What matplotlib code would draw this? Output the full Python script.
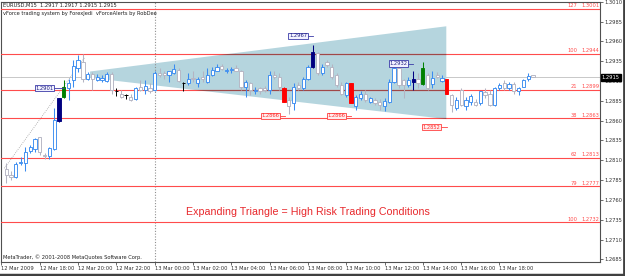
import matplotlib
matplotlib.use("Agg")
import matplotlib.pyplot as plt
import matplotlib.transforms as mtrans
from matplotlib.patches import Polygon
from matplotlib.lines import Line2D

# EURUSD M15, bar 0 = 12 Mar 16:00
bars = list(range(1, 112))
opens = [1.2799, 1.2792, 1.2789, 1.2807, 1.2807, 1.2822, 1.2824, 1.2839, 1.2817, 1.2815,
         1.2824, 1.2859, 1.2890, 1.2901, 1.2911, 1.2926, 1.2934, 1.2913, 1.2919, 1.2911,
         1.2911, 1.2910, 1.2919, 1.2897, 1.2894, 1.2892, 1.2890, 1.2887, 1.2903, 1.2899,
         1.2901, 1.2899, 1.2920, 1.2920, 1.2917, 1.2920, 1.2924, 1.2907, 1.2907, 1.2914,
         1.2907, 1.2915, 1.2909, 1.2917, 1.2923, 1.2929, 1.2923, 1.2924, 1.2927, 1.2922,
         1.2903, 1.2907, 1.2898, 1.2901, 1.2901, 1.2899, 1.2918, 1.2915, 1.2901, 1.2886,
         1.2882, 1.2905, 1.2901, 1.2913, 1.2928, 1.2945, 1.2920, 1.2934, 1.2928, 1.2918,
         1.2905, 1.2892, 1.2907, 1.2878, 1.2888, 1.2894, 1.2884, 1.2886, 1.2884, 1.2878,
         1.2884, 1.2909, 1.2926, 1.2911, 1.2905, 1.2909, 1.2913, 1.2906, 1.2918, 1.2906,
         1.2918, 1.2910, 1.2912, 1.2892, 1.2876, 1.2899, 1.2878, 1.2883, 1.2884, 1.2882,
         1.2896, 1.2894, 1.2880, 1.2901, 1.2907, 1.2901, 1.2906, 1.2897, 1.2903, 1.2912,
         1.2917]
highs = [1.2806, 1.2796, 1.2808, 1.2814, 1.2827, 1.2829, 1.2838, 1.2840, 1.2819, 1.2827,
         1.2876, 1.2889, 1.2911, 1.2913, 1.2936, 1.2943, 1.2944, 1.2921, 1.2921, 1.2919,
         1.2918, 1.2921, 1.2921, 1.2901, 1.2899, 1.2893, 1.2893, 1.2903, 1.2911, 1.2911,
         1.2908, 1.2922, 1.2926, 1.2923, 1.2923, 1.2931, 1.2926, 1.2909, 1.2920, 1.2922,
         1.2915, 1.2922, 1.2926, 1.2928, 1.2932, 1.2931, 1.2927, 1.2928, 1.2930, 1.2924,
         1.2911, 1.2909, 1.2902, 1.2903, 1.2904, 1.2922, 1.2922, 1.2920, 1.2903, 1.2890,
         1.2907, 1.2909, 1.2915, 1.2930, 1.2955, 1.2947, 1.2932, 1.2936, 1.2932, 1.2920,
         1.2909, 1.2909, 1.2907, 1.2892, 1.2897, 1.2899, 1.2890, 1.2888, 1.2887, 1.2888,
         1.2912, 1.2928, 1.2928, 1.2913, 1.2915, 1.2922, 1.2920, 1.2934, 1.2920, 1.2922,
         1.2921, 1.2918, 1.2912, 1.2894, 1.2890, 1.2901, 1.2890, 1.2894, 1.2887, 1.2898,
         1.2901, 1.2899, 1.2903, 1.2907, 1.2911, 1.2909, 1.2909, 1.2903, 1.2913, 1.2920,
         1.2917]
lows = [1.2781, 1.2785, 1.2788, 1.2804, 1.2796, 1.2819, 1.2821, 1.2817, 1.2812, 1.2812,
        1.2823, 1.2858, 1.2889, 1.2886, 1.2903, 1.2921, 1.2909, 1.2911, 1.2899, 1.2910,
        1.2909, 1.2909, 1.2894, 1.2891, 1.2888, 1.2887, 1.2885, 1.2886, 1.2897, 1.2894,
        1.2895, 1.2897, 1.2915, 1.2913, 1.2909, 1.2919, 1.2909, 1.2897, 1.2905, 1.2909,
        1.2903, 1.2909, 1.2907, 1.2916, 1.2922, 1.2924, 1.2920, 1.2920, 1.2922, 1.2899,
        1.2890, 1.2892, 1.2893, 1.2894, 1.2896, 1.2894, 1.2913, 1.2899, 1.2883, 1.2869,
        1.2873, 1.2899, 1.2899, 1.2911, 1.2926, 1.2918, 1.2918, 1.2928, 1.2913, 1.2903,
        1.2892, 1.2890, 1.2882, 1.2874, 1.2886, 1.2884, 1.2882, 1.2880, 1.2873, 1.2872,
        1.2882, 1.2907, 1.2901, 1.2888, 1.2902, 1.2899, 1.2901, 1.2905, 1.2899, 1.2901,
        1.2914, 1.2909, 1.2893, 1.2871, 1.2873, 1.2878, 1.2874, 1.2880, 1.2878, 1.2880,
        1.2888, 1.2878, 1.2878, 1.2899, 1.2899, 1.2899, 1.2894, 1.2892, 1.2903, 1.2910,
        1.2915]
closes = [1.2791, 1.2789, 1.2805, 1.2808, 1.2820, 1.2827, 1.2837, 1.2820, 1.2815, 1.2825,
          1.2861, 1.2889, 1.2903, 1.2907, 1.2929, 1.2936, 1.2912, 1.2919, 1.2912, 1.2915,
          1.2914, 1.2919, 1.2899, 1.2897, 1.2890, 1.2892, 1.2886, 1.2901, 1.2899, 1.2904,
          1.2897, 1.2920, 1.2918, 1.2917, 1.2922, 1.2925, 1.2910, 1.2907, 1.2912, 1.2912,
          1.2913, 1.2912, 1.2917, 1.2924, 1.2928, 1.2925, 1.2924, 1.2925, 1.2923, 1.2903,
          1.2909, 1.2899, 1.2899, 1.2898, 1.2899, 1.2918, 1.2915, 1.2903, 1.2884, 1.2878,
          1.2903, 1.2901, 1.2913, 1.2928, 1.2947, 1.2920, 1.2928, 1.2930, 1.2915, 1.2905,
          1.2894, 1.2907, 1.2882, 1.2890, 1.2894, 1.2886, 1.2888, 1.2882, 1.2880, 1.2885,
          1.2909, 1.2926, 1.2905, 1.2905, 1.2911, 1.2913, 1.2907, 1.2926, 1.2901, 1.2914,
          1.2915, 1.2914, 1.2893, 1.2880, 1.2886, 1.2880, 1.2886, 1.2891, 1.2880, 1.2897,
          1.2892, 1.2880, 1.2901, 1.2905, 1.2901, 1.2906, 1.2897, 1.2901, 1.2911, 1.2916,
          1.2915]

# vForce coloured bars
highlight = {12: "#000080", 13: "#008000", 59: "#ff0000", 65: "#000080",
             73: "#ff0000", 86: "#000080", 88: "#008000", 93: "#ff0000"}
black_bars = [24, 26, 38]

fib_levels = ["127", "100", "21", "38", "62", "79", "100"]
fib_prices = [1.3001, 1.2944, 1.2899, 1.2863, 1.2813, 1.2777, 1.2732]

# swing labels: (text, label end bar, marked bar, price, kind)
swing_labels = [("1.2901", 10.9, 13.0, 1.2901, "hi"),
                ("1.2967", 63.8, 65.0, 1.2967, "hi"),
                ("1.2932", 84.8, 86.0, 1.2932, "hi"),
                ("1.2866", 58.0, 59.2, 1.2866, "lo"),
                ("1.2866", 71.8, 73.0, 1.2866, "lo"),
                ("1.2852", 91.6, 93.1, 1.2852, "lo")]

triangle_bars = [18.5, 92.9, 92.9, 18.5]
triangle_prices = [1.2922, 1.2979, 1.2862, 1.2914]
trend_bars = [0.6, 17.3]
trend_prices = [1.2800, 1.2939]

current_price = 1.2915
price_ticks = [1.3010, 1.2985, 1.2960, 1.2935, 1.2910, 1.2885, 1.2860, 1.2835,
               1.2810, 1.2785, 1.2760, 1.2735, 1.2710, 1.2685]
time_ticks = [0, 8, 16, 24, 32, 40, 48, 56, 64, 72, 80, 88, 96, 104]
time_labels = ["12 Mar 2009", "12 Mar 18:00", "12 Mar 20:00", "12 Mar 22:00",
               "13 Mar 00:00", "13 Mar 02:00", "13 Mar 04:00", "13 Mar 06:00",
               "13 Mar 08:00", "13 Mar 10:00", "13 Mar 12:00", "13 Mar 14:00",
               "13 Mar 16:00", "13 Mar 18:00"]

UP, DOWN = "#3a8cf0", "#b4b4c2"
FIB = "#ff4c4c"
SMALL = 3.7

fig = plt.figure(figsize=(6.25, 2.76), dpi=100)
ax = fig.add_axes([1.5 / 625, 14 / 276, 598.5 / 625, 260.3 / 276])
ax.set_xlim(0.06, 125.0)
ax.set_ylim(1.26818, 1.30100)

# triangle
tri = Polygon(list(zip(triangle_bars, triangle_prices)), closed=True,
              facecolor="#b5d5de", edgecolor="none", zorder=2)
ax.add_patch(tri)

ax.axhline(current_price, color="#c8c8c8", lw=0.7, zorder=1)
ax.axvline(32, color="#909090", lw=0.8, ls=(0, (1, 1.5)), zorder=3)
ax.plot(trend_bars, trend_prices, color="#a0a0a0", lw=0.6, ls=(0, (1, 1.5)), zorder=3)

# fibo levels, darker where they cross the triangle
for lev, p in zip(fib_levels, fib_prices):
    ax.axhline(p, color=FIB, lw=0.8, zorder=3)
    dark = ax.axhline(p, color="#a04848", lw=0.8, zorder=3.5)
    dark.set_clip_path(tri)
    ax.text(120.3, p + 0.00008, lev, color=FIB, fontsize=SMALL, ha="right", va="bottom")
    ax.text(121.1, p + 0.00008, f"{p:.4f}", color=FIB, fontsize=SMALL, ha="left", va="bottom")

# candles
for i, o, h, l, c in zip(bars, opens, highs, lows, closes):
    if i in black_bars:
        ax.vlines(i, l, h, color="black", lw=0.7, zorder=5)
        ax.hlines(o, i - 0.35, i + 0.35, color="black", lw=0.7, zorder=5)
        continue
    col = UP if c >= o else DOWN
    face = "white"
    if i in highlight:
        col = face = highlight[i]
    ax.vlines(i, l, h, color=col, lw=0.75, zorder=4)
    body = max(abs(c - o), 0.00002)
    ax.bar(i, body, bottom=min(o, c), width=0.68, facecolor=face, edgecolor=col,
           linewidth=0.65, zorder=5)

# swing labels
for txt, xe, xb, p, kind in swing_labels:
    if kind == "hi":
        ec, fc, tc = "#3a3aa8", "#f2f2ff", "#202080"
    else:
        ec, fc, tc = "#ff4040", "#ffecec", "#ff3030"
    ax.plot([xe, xb], [p, p], color=ec, lw=0.6, zorder=6)
    ax.text(xe, p, txt, fontsize=SMALL, color=tc, ha="right", va="center", zorder=7,
            bbox=dict(boxstyle="square,pad=0.15", fc=fc, ec=ec, lw=0.6))

ax.text(64.0, 1.2745, "Expanding Triangle = High Risk Trading Conditions",
        color="#e8282c", fontsize=7.7, family="Liberation Sans", ha="center", va="center")

# axes
for s in ax.spines.values():
    s.set_color("#505050")
    s.set_linewidth(0.8)
ax.yaxis.tick_right()
ax.set_yticks(price_ticks)
ax.set_yticklabels([f"{p:.4f}" for p in price_ticks])
ax.set_xticks(time_ticks)
ax.set_xticklabels(time_labels)
ax.tick_params(axis="both", labelsize=SMALL, length=2, width=0.5, pad=1, colors="#303030")
for lab in ax.get_xticklabels():
    lab.set_ha("left")

trans = mtrans.blended_transform_factory(ax.transAxes, ax.transData)
ax.text(1.003, current_price, f"{current_price:.4f}", transform=trans, color="white",
        fontsize=SMALL, ha="left", va="center", zorder=8,
        bbox=dict(boxstyle="square,pad=0.2", fc="black", ec="black"))

fig.text(2.7 / 625, 1 - 2.5 / 276, "EURUSD,M15  1.2917 1.2917 1.2915 1.2915",
         fontsize=SMALL, va="top", ha="left", color="#202020")
fig.text(2.7 / 625, 1 - 10.5 / 276,
         "vForce trading system by ForexJedi  vForceAlerts by RobDee",
         fontsize=SMALL, va="top", ha="left", color="#202020")
fig.text(2.7 / 625, 15.5 / 276, "MetaTrader, \u00a9 2001-2008 MetaQuotes Software Corp.",
         fontsize=SMALL, va="bottom", ha="left", color="#202020")

# window frame at right / bottom
fig.add_artist(Line2D([623.5 / 625, 623.5 / 625], [0, 1], transform=fig.transFigure,
                      color="#404040", lw=2))
fig.add_artist(Line2D([0, 1], [1.5 / 276, 1.5 / 276], transform=fig.transFigure,
                      color="#404040", lw=2.5))

fig.savefig("out.png", dpi=100)
